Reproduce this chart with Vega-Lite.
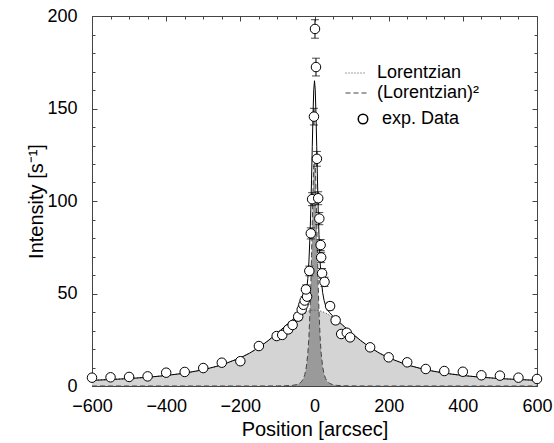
{
  "$schema": "https://vega.github.io/schema/vega-lite/v6.json",
  "width": 445,
  "height": 370,
  "autosize": "none",
  "padding": {"left": 92, "top": 16, "right": 17, "bottom": 57},
  "background": "white",
  "config": {
    "view": {"stroke": "#444", "strokeWidth": 1},
    "font": "Liberation Sans",
    "axis": {"labelFont": "Liberation Sans", "titleFont": "Liberation Sans", "labelColor": "black", "titleColor": "black", "titleFontWeight": "normal", "tickColor": "#444", "grid": false, "labelFontSize": 18, "titleFontSize": 20, "domain": false}
  },
  "datasets": {
    "curves": [
      {"x": -600, "lor": 3.07, "lor2": 0, "total": 3.07},
      {"x": -550, "lor": 3.49, "lor2": 0, "total": 3.49},
      {"x": -500, "lor": 4.03, "lor2": 0, "total": 4.03},
      {"x": -450, "lor": 4.73, "lor2": 0, "total": 4.73},
      {"x": -400, "lor": 5.67, "lor2": 0, "total": 5.67},
      {"x": -350, "lor": 6.95, "lor2": 0, "total": 6.95},
      {"x": -300, "lor": 8.76, "lor2": 0, "total": 8.76},
      {"x": -250, "lor": 11.37, "lor2": 0, "total": 11.37},
      {"x": -200, "lor": 15.21, "lor2": 0, "total": 15.21},
      {"x": -175, "lor": 17.77, "lor2": 0, "total": 17.77},
      {"x": -150, "lor": 20.85, "lor2": 0, "total": 20.85},
      {"x": -125, "lor": 24.49, "lor2": 0.02, "total": 24.51},
      {"x": -100, "lor": 28.6, "lor2": 0.05, "total": 28.65},
      {"x": -80, "lor": 32.08, "lor2": 0.11, "total": 32.19},
      {"x": -60, "lor": 35.44, "lor2": 0.33, "total": 35.77},
      {"x": -50, "lor": 36.97, "lor2": 0.66, "total": 37.63},
      {"x": -40, "lor": 38.32, "lor2": 1.48, "total": 39.8},
      {"x": -35, "lor": 38.92, "lor2": 2.36, "total": 41.28},
      {"x": -30, "lor": 39.45, "lor2": 3.97, "total": 43.42},
      {"x": -26, "lor": 39.82, "lor2": 6.27, "total": 46.09},
      {"x": -22, "lor": 40.15, "lor2": 10.3, "total": 50.45},
      {"x": -18, "lor": 40.43, "lor2": 17.6, "total": 58.03},
      {"x": -15, "lor": 40.6, "lor2": 26.9, "total": 67.5},
      {"x": -12, "lor": 40.74, "lor2": 41.2, "total": 81.94},
      {"x": -10, "lor": 40.82, "lor2": 54.4, "total": 95.22},
      {"x": -8, "lor": 40.89, "lor2": 70.5, "total": 111.39},
      {"x": -6, "lor": 40.94, "lor2": 88.5, "total": 129.44},
      {"x": -4, "lor": 40.97, "lor2": 106.0, "total": 146.97},
      {"x": -2, "lor": 40.99, "lor2": 119.1, "total": 160.09},
      {"x": 0, "lor": 41.0, "lor2": 124.0, "total": 165.0},
      {"x": 2, "lor": 40.99, "lor2": 119.1, "total": 160.09},
      {"x": 4, "lor": 40.97, "lor2": 106.0, "total": 146.97},
      {"x": 6, "lor": 40.94, "lor2": 88.5, "total": 129.44},
      {"x": 8, "lor": 40.89, "lor2": 70.5, "total": 111.39},
      {"x": 10, "lor": 40.82, "lor2": 54.4, "total": 95.22},
      {"x": 12, "lor": 40.74, "lor2": 41.2, "total": 81.94},
      {"x": 15, "lor": 40.6, "lor2": 26.9, "total": 67.5},
      {"x": 18, "lor": 40.43, "lor2": 17.6, "total": 58.03},
      {"x": 22, "lor": 40.15, "lor2": 10.3, "total": 50.45},
      {"x": 26, "lor": 39.82, "lor2": 6.27, "total": 46.09},
      {"x": 30, "lor": 39.45, "lor2": 3.97, "total": 43.42},
      {"x": 35, "lor": 38.92, "lor2": 2.36, "total": 41.28},
      {"x": 40, "lor": 38.32, "lor2": 1.48, "total": 39.8},
      {"x": 50, "lor": 36.97, "lor2": 0.66, "total": 37.63},
      {"x": 60, "lor": 35.44, "lor2": 0.33, "total": 35.77},
      {"x": 80, "lor": 32.08, "lor2": 0.11, "total": 32.19},
      {"x": 100, "lor": 28.6, "lor2": 0.05, "total": 28.65},
      {"x": 125, "lor": 24.49, "lor2": 0.02, "total": 24.51},
      {"x": 150, "lor": 20.85, "lor2": 0, "total": 20.85},
      {"x": 175, "lor": 17.77, "lor2": 0, "total": 17.77},
      {"x": 200, "lor": 15.21, "lor2": 0, "total": 15.21},
      {"x": 250, "lor": 11.37, "lor2": 0, "total": 11.37},
      {"x": 300, "lor": 8.76, "lor2": 0, "total": 8.76},
      {"x": 350, "lor": 6.95, "lor2": 0, "total": 6.95},
      {"x": 400, "lor": 5.67, "lor2": 0, "total": 5.67},
      {"x": 450, "lor": 4.73, "lor2": 0, "total": 4.73},
      {"x": 500, "lor": 4.03, "lor2": 0, "total": 4.03},
      {"x": 550, "lor": 3.49, "lor2": 0, "total": 3.49},
      {"x": 600, "lor": 3.07, "lor2": 0, "total": 3.07}
    ],
    "points": [
      {"x": -600, "y": 4.5, "e": 1},
      {"x": -550, "y": 4.7, "e": 1},
      {"x": -500, "y": 4.9, "e": 1},
      {"x": -450, "y": 5.2, "e": 1},
      {"x": -400, "y": 7.2, "e": 1},
      {"x": -350, "y": 7.6, "e": 1},
      {"x": -300, "y": 9.7, "e": 1},
      {"x": -250, "y": 12.6, "e": 1.2},
      {"x": -200, "y": 13.4, "e": 1.2},
      {"x": -150, "y": 21.6, "e": 1.4},
      {"x": -102, "y": 27.0, "e": 1.6},
      {"x": -87, "y": 27.6, "e": 1.6},
      {"x": -71, "y": 30.6, "e": 1.7},
      {"x": -59, "y": 33.0, "e": 1.8},
      {"x": -44, "y": 37.5, "e": 1.9},
      {"x": -34.5, "y": 41.3, "e": 2},
      {"x": -30, "y": 43.9, "e": 2.1},
      {"x": -26.5, "y": 46.2, "e": 2.2},
      {"x": -20, "y": 48.3, "e": 2.3},
      {"x": -23, "y": 52.2, "e": 2.4},
      {"x": -14, "y": 62.2, "e": 2.6},
      {"x": -10, "y": 82.5, "e": 3},
      {"x": -6.5, "y": 101.0, "e": 3.5},
      {"x": -1.5, "y": 145.6, "e": 4.5},
      {"x": 1.3, "y": 193.0, "e": 5},
      {"x": 4, "y": 172.4, "e": 4.8},
      {"x": 6.5, "y": 122.8, "e": 4},
      {"x": 10, "y": 101.5, "e": 3.5},
      {"x": 13, "y": 90.5, "e": 3.3},
      {"x": 16.5, "y": 76.2, "e": 3},
      {"x": 18, "y": 69.5, "e": 2.8},
      {"x": 20.5, "y": 60.9, "e": 2.6},
      {"x": 27, "y": 56.3, "e": 2.5},
      {"x": 42, "y": 43.2, "e": 2},
      {"x": 57, "y": 35.5, "e": 1.8},
      {"x": 72, "y": 28.1, "e": 1.6},
      {"x": 87, "y": 28.8, "e": 1.6},
      {"x": 96, "y": 26.3, "e": 1.6},
      {"x": 150, "y": 20.9, "e": 1.4},
      {"x": 200, "y": 15.5, "e": 1.2},
      {"x": 250, "y": 12.8, "e": 1.2},
      {"x": 300, "y": 9.2, "e": 1},
      {"x": 350, "y": 8.1, "e": 1},
      {"x": 400, "y": 7.7, "e": 1},
      {"x": 450, "y": 5.8, "e": 1},
      {"x": 500, "y": 5.6, "e": 1},
      {"x": 550, "y": 4.5, "e": 1},
      {"x": 600, "y": 3.8, "e": 1}
    ]
  },
  "layer": [
    {
      "data": {"name": "curves"},
      "mark": {"type": "area", "color": "#d4d4d4"},
      "encoding": {
        "x": {"field": "x", "type": "quantitative", "scale": {"domain": [-600, 600], "nice": false},
          "axis": {"orient": "bottom", "values": [-600, -400, -200, 0, 200, 400, 600], "ticks": false, "labelPadding": 11, "title": "Position [arcsec]", "titlePadding": 4, "labelFlush": false}},
        "y": {"field": "lor", "type": "quantitative", "scale": {"domain": [0, 200], "nice": false},
          "axis": {"orient": "left", "values": [0, 50, 100, 150, 200], "ticks": false, "labelPadding": 15, "title": "Intensity [s⁻¹]", "titlePadding": 0, "labelFlush": false}}
      }
    },
    {
      "data": {"name": "curves"},
      "mark": {"type": "area", "color": "#9a9a9a"},
      "encoding": {
        "x": {"field": "x", "type": "quantitative",
          "axis": {"orient": "bottom", "values": [-600, -400, -200, 0, 200, 400, 600], "labels": false, "tickSize": -5, "title": null}},
        "y": {"field": "lor2", "type": "quantitative",
          "axis": {"orient": "left", "values": [0, 50, 100, 150, 200], "labels": false, "tickSize": -5, "title": null}}
      }
    },
    {
      "data": {"name": "curves"},
      "transform": [{"fold": ["lor", "lor2"], "as": ["key", "value"]}],
      "mark": {"type": "line", "color": "#444", "strokeWidth": 1},
      "encoding": {
        "x": {"field": "x", "type": "quantitative",
          "axis": {"orient": "bottom", "values": [-550, -500, -450, -350, -300, -250, -150, -100, -50, 50, 100, 150, 250, 300, 350, 450, 500, 550], "labels": false, "tickSize": -3, "title": null}},
        "y": {"field": "value", "type": "quantitative",
          "axis": {"orient": "left", "values": [10, 20, 30, 40, 60, 70, 80, 90, 110, 120, 130, 140, 160, 170, 180, 190], "labels": false, "tickSize": -3, "title": null}},
        "strokeDash": {"field": "key", "type": "nominal",
          "scale": {"domain": ["lor", "lor2"], "range": [[1, 2], [5, 3]]},
          "legend": {"orient": "none", "legendX": 253, "legendY": 46, "title": null, "padding": 0,
            "labelExpr": "datum.label == 'lor' ? 'Lorentzian' : '(Lorentzian)²'",
            "labelFont": "Liberation Sans", "labelFontSize": 18, "labelColor": "black",
            "symbolSize": 441, "symbolStrokeWidth": 1, "symbolStrokeColor": "#444", "symbolType": "stroke",
            "labelOffset": 10, "rowPadding": 0}}
      }
    },
    {
      "data": {"name": "curves"},
      "mark": {"type": "line", "color": "black", "strokeWidth": 1},
      "encoding": {
        "x": {"field": "x", "type": "quantitative",
          "axis": {"orient": "top", "values": [-600, -400, -200, 0, 200, 400, 600], "labels": false, "tickSize": -5, "title": null}},
        "y": {"field": "total", "type": "quantitative",
          "axis": {"orient": "right", "values": [0, 50, 100, 150, 200], "labels": false, "tickSize": -5, "title": null}}
      }
    },
    {
      "data": {"name": "points"},
      "mark": {"type": "errorbar", "ticks": {"size": 8, "thickness": 1, "color": "black"}, "rule": {"strokeWidth": 1, "color": "black"}},
      "encoding": {
        "x": {"field": "x", "type": "quantitative",
          "axis": {"orient": "top", "values": [-550, -500, -450, -350, -300, -250, -150, -100, -50, 50, 100, 150, 250, 300, 350, 450, 500, 550], "labels": false, "tickSize": -3, "title": null}},
        "y": {"field": "y", "type": "quantitative",
          "axis": {"orient": "right", "values": [10, 20, 30, 40, 60, 70, 80, 90, 110, 120, 130, 140, 160, 170, 180, 190], "labels": false, "tickSize": -3, "title": null}},
        "yError": {"field": "e"}
      }
    },
    {
      "data": {"name": "points"},
      "mark": {"type": "point", "filled": true, "fill": "white", "stroke": "black", "strokeWidth": 1, "size": 90, "opacity": 1},
      "encoding": {
        "x": {"field": "x", "type": "quantitative", "axis": null},
        "y": {"field": "y", "type": "quantitative", "axis": null},
        "shape": {"datum": "exp. Data", "type": "nominal", "scale": {"range": ["circle"]},
          "legend": {"orient": "none", "legendX": 262, "legendY": 94, "title": null, "padding": 0,
            "labelFont": "Liberation Sans", "labelFontSize": 18, "labelColor": "black",
            "symbolSize": 90, "symbolType": "circle", "labelOffset": 10,
            "encode": {"symbols": {"update": {"fill": {"value": "white"}, "stroke": {"value": "black"}, "strokeWidth": {"value": 1}, "opacity": {"value": 1}, "fillOpacity": {"value": 1}, "strokeOpacity": {"value": 1}}}}}}
      }
    }
  ],
  "resolve": {"axis": {"x": "independent", "y": "independent"}}
}
